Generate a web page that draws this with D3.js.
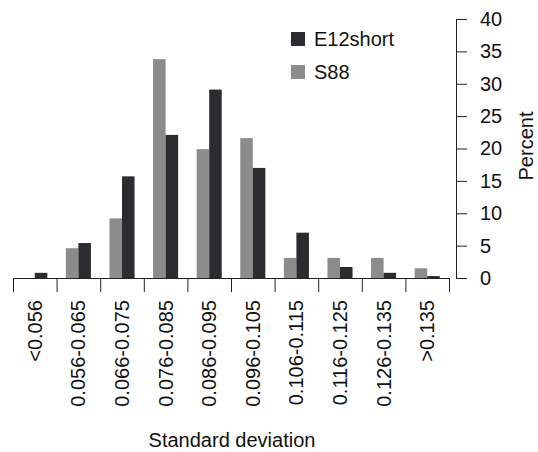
<html>
<head>
  <script src="https://cdn.jsdelivr.net/npm/d3@7/dist/d3.min.js"></script>
  <style>
    body { margin: 0; background: #fff; }
    text { font-family: "Liberation Sans", Arial, sans-serif; }
  </style>
</head>
<body>
  <svg width="538" height="452"></svg>

  <script type="text/javascript">

  // data
  let categories = ["<0.056","0.056-0.065","0.066-0.075","0.076-0.085","0.086-0.095",
                    "0.096-0.105","0.106-0.115","0.116-0.125","0.126-0.135",">0.135"]
  let seriesNames = ["S88","E12short"]
  let s88 = [0, 4.6, 9.2, 33.8, 19.9, 21.6, 3.1, 3.1, 3.1, 1.5]
  let e12short = [0.8, 5.4, 15.7, 22.1, 29.1, 17.0, 7.0, 1.7, 0.8, 0.3]
  let yTicks = [0,5,10,15,20,25,30,35,40]
  let colors = {"S88":"#8c8c8c","E12short":"#2b2c30"}

  let list = []
  categories.forEach(function(c,i){
    list.push({"cat":c,"series":"S88","v":s88[i]})
    list.push({"cat":c,"series":"E12short","v":e12short[i]})
  })

  let svg = d3.select('svg')
  let fs = 20

  let x = d3.scaleBand().domain(categories).range([13,449]).padding(0)
  let x1 = d3.scaleBand().domain(seriesNames).range([0,x.bandwidth()])
             .paddingInner(0).paddingOuter(0.74)
  let y = d3.scaleLinear().domain([0,40]).range([278,19])

  // bars
  svg.append("g")
     .selectAll("rect")
     .data(list)
     .enter()
     .append("rect")
     .attr("x",function(d){return x(d.cat)+x1(d.series)})
     .attr("y",function(d){return y(d.v)})
     .attr("width",x1.bandwidth())
     .attr("height",function(d){return y(0)-y(d.v)})
     .attr("fill",function(d){return colors[d.series]})

  // x axis: ticks on the category edges
  let edges = d3.scaleLinear().domain([0,categories.length]).range(x.range())
  let gx = svg.append("g")
     .attr("transform","translate(0,"+y(0)+")")
     .call(d3.axisBottom(edges).tickValues(d3.range(categories.length+1))
            .tickSize(14).tickSizeOuter(0).tickFormat(""))
  gx.select(".domain").attr("stroke","#222")
  gx.selectAll(".tick line").attr("stroke","#222")

  svg.append("g")
     .selectAll("text")
     .data(categories)
     .enter()
     .append("text")
     .attr("transform",function(d){
        return "translate("+(x(d)+x.bandwidth()/2+7)+",300) rotate(-90)"})
     .attr("text-anchor","end")
     .attr("font-size",fs)
     .attr("fill","#111")
     .text(function(d){return d})

  svg.append("text")
     .attr("x",232).attr("y",447)
     .attr("text-anchor","middle")
     .attr("font-size",fs)
     .attr("fill","#111")
     .text("Standard deviation")

  // y axis on the right
  let gy = svg.append("g")
     .attr("transform","translate(456,0)")
     .call(d3.axisRight(y).tickValues(yTicks).tickSize(11).tickSizeOuter(0).tickPadding(13))
  gy.select(".domain").attr("stroke","#222")
  gy.selectAll(".tick line").attr("stroke","#222")
  gy.selectAll(".tick text")
    .attr("font-size",fs)
    .attr("font-family","Liberation Sans, Arial, sans-serif")
    .attr("fill","#111")

  svg.append("text")
     .attr("transform","translate(533,146) rotate(-90)")
     .attr("text-anchor","middle")
     .attr("font-size",fs)
     .attr("fill","#111")
     .text("Percent")

  // legend
  let legend = [{"name":"E12short","y":32},{"name":"S88","y":65}]
  let lg = svg.append("g")
     .selectAll("g")
     .data(legend)
     .enter()
     .append("g")
  lg.append("rect")
    .attr("x",291).attr("y",function(d){return d.y})
    .attr("width",14).attr("height",14)
    .attr("fill",function(d){return colors[d.name]})
  lg.append("text")
    .attr("x",314).attr("y",function(d){return d.y+14})
    .attr("font-size",fs)
    .attr("fill","#111")
    .text(function(d){return d.name})

  </script>
</body>
</html>
